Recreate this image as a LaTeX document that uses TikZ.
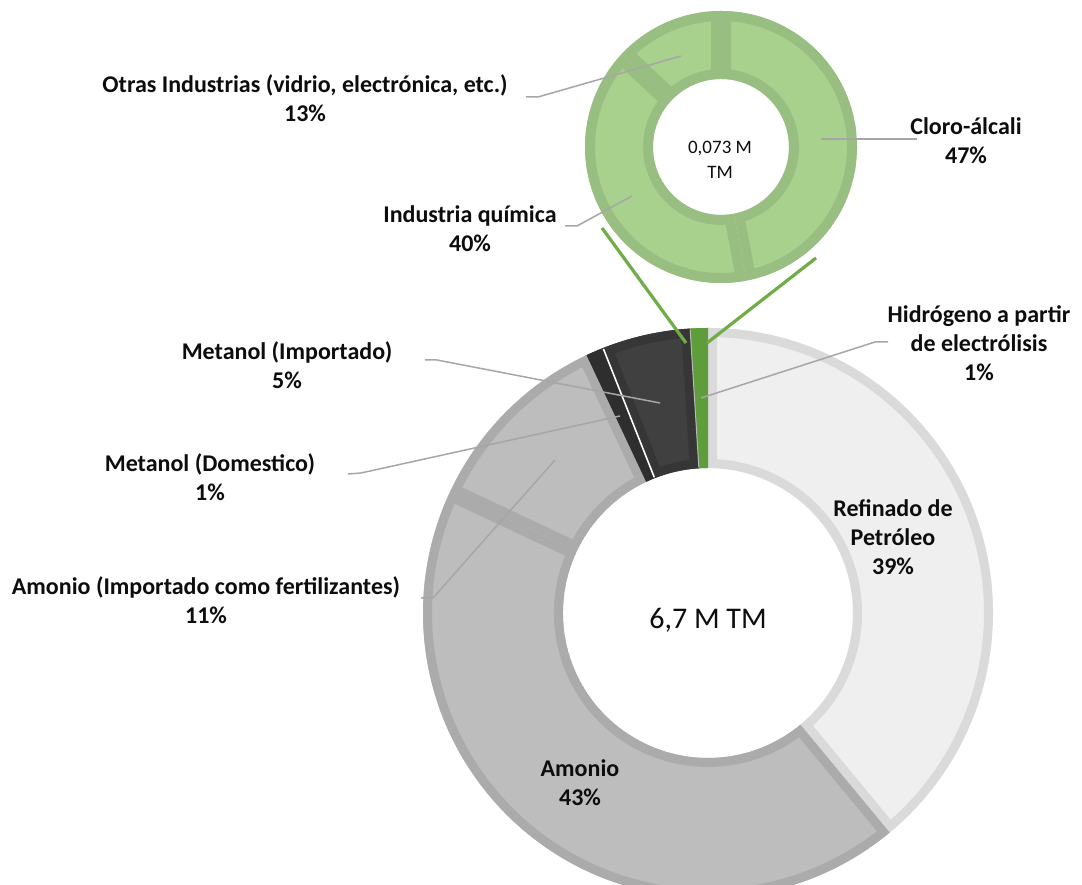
\documentclass[tikz,border=0pt]{standalone}
\usepackage{fontspec}
\setmainfont{Carlito}
\usetikzlibrary{calc}
\definecolor{refF}{HTML}{EFEFEF}
\definecolor{refB}{HTML}{DADADA}
\definecolor{amoF}{HTML}{BDBDBD}
\definecolor{amoB}{HTML}{ABABAB}
\definecolor{metF}{HTML}{404040}
\definecolor{metB}{HTML}{363636}
\definecolor{domF}{HTML}{2E2E2E}
\definecolor{hidF}{HTML}{5E9C3C}
\definecolor{grnF}{HTML}{A9D18E}
\definecolor{grnB}{HTML}{98BE82}
\definecolor{conn}{HTML}{70AD47}
\definecolor{lead}{HTML}{A6A6A6}
\definecolor{txt}{HTML}{0D0D0D}

% #1 centre, #2 outer R, #3 inner r, #4 start angle, #5 end angle, #6 fill, #7 border colour, #8 border width
\newcommand{\ringsector}[8]{%
  \begin{scope}
    \clip (#1) ++(#4:#2pt) arc[start angle=#4,end angle=#5,radius=#2pt]
      -- ($(#1)+(#5:#3pt)$) arc[start angle=#5,end angle=#4,radius=#3pt] -- cycle;
    \fill[#6] (#1) ++(#4:#2pt) arc[start angle=#4,end angle=#5,radius=#2pt]
      -- ($(#1)+(#5:#3pt)$) arc[start angle=#5,end angle=#4,radius=#3pt] -- cycle;
    \draw[#7,line width=2*#8pt] (#1) ++(#4:#2pt) arc[start angle=#4,end angle=#5,radius=#2pt]
      -- ($(#1)+(#5:#3pt)$) arc[start angle=#5,end angle=#4,radius=#3pt] -- cycle;
  \end{scope}}

\tikzset{
  lbl/.style={font=\bfseries\fontsize{24}{29}\selectfont, align=center, inner sep=0pt, text=txt},
  leader/.style={draw=lead, line width=1.5pt},
  zoomline/.style={draw=conn, line width=3.2pt},
}

\begin{document}
\begin{tikzpicture}[x=1pt,y=1pt]
\useasboundingbox (0,0) rectangle (1082,885);
\clip (0,0) rectangle (1082,885);
\fill[white] (0,0) rectangle (1082,885);

% centres
\coordinate (B) at (708,272);
\coordinate (S) at (721,738);

% big donut
\ringsector{B}{285}{145}{90}{-50.4}{refF}{refB}{9}
\ringsector{B}{285}{145}{-50.4}{-205.2}{amoF}{amoB}{9}
\ringsector{B}{285}{145}{-205.2}{-244.8}{amoF}{amoB}{9}
\ringsector{B}{285}{145}{-244.8}{-248.4}{domF}{domF}{9}
\ringsector{B}{285}{145}{-248.4}{-266.4}{metF}{metB}{9}
\ringsector{B}{285}{145}{-266.4}{-270}{hidF}{hidF}{9}
\draw[white, line width=1.6pt] ($(B)+(-248.4:146pt)$) -- ($(B)+(-248.4:284pt)$);
\draw[lead!80, line width=1pt] ($(B)+(-266.4:146pt)$) -- ($(B)+(-266.4:284pt)$);

% small donut
\ringsector{S}{136}{68}{90}{-79.2}{grnF}{grnB}{10}
\ringsector{S}{136}{68}{-79.2}{-223.2}{grnF}{grnB}{10}
\ringsector{S}{136}{68}{-223.2}{-270}{grnF}{grnB}{10}

% zoom connectors
\coordinate (zl1) at (602,657);
\coordinate (zl2) at (686,542);
\coordinate (zr1) at (816,627);
\coordinate (zr2) at (707,542);
\draw[zoomline] (zl1) -- (zl2);
\draw[zoomline] (zr1) -- (zr2);

% centre labels
\node[font=\fontsize{30}{36}\selectfont, text=txt, inner sep=0pt] (tot) at (708,265) {6,7 M TM};
\node[font=\fontsize{19}{25}\selectfont, text=txt, align=center, inner sep=0pt] (sub) at (720,725) {0,073 M\\TM};

% labels
\node[lbl] (otras) at (305,786.5) {Otras Industrias (vidrio, electrónica, etc.)\\13\%};
\node[lbl] (cloro) at (966,744.5) {Cloro-álcali\\47\%};
\node[lbl] (quim) at (470,656.5) {Industria química\\40\%};
\node[lbl] (hidro) at (979,542) {Hidrógeno a partir\\de electrólisis\\1\%};
\node[lbl] (metimp) at (287,520) {Metanol (Importado)\\5\%};
\node[lbl] (metdom) at (210,408) {Metanol (Domestico)\\1\%};
\node[lbl] (amoimp) at (206,285) {Amonio (Importado como fertilizantes)\\11\%};
\node[lbl] (refin) at (893,348) {Refinado de\\Petróleo\\39\%};
\node[lbl] (amonio) at (580,102.5) {Amonio\\43\%};

% leader lines
\coordinate (o1) at (681,829); \coordinate (o2) at (538,788); \coordinate (o3) at (526,788);
\draw[leader] (o1) -- (o2) -- (o3);
\coordinate (c1) at (821,746); \coordinate (c2) at (917,746);
\draw[leader] (c1) -- (c2);
\coordinate (q1) at (632,689); \coordinate (q2) at (577,659); \coordinate (q3) at (565,659);
\draw[leader] (q1) -- (q2) -- (q3);
\coordinate (h1) at (701,487); \coordinate (h2) at (875,543); \coordinate (h3) at (888,543);
\draw[leader] (h1) -- (h2) -- (h3);
\coordinate (mi1) at (660,482); \coordinate (mi2) at (437,525); \coordinate (mi3) at (425,525);
\draw[leader] (mi1) -- (mi2) -- (mi3);
\coordinate (md1) at (620,469); \coordinate (md2) at (361,412); \coordinate (md3) at (348,411);
\draw[leader] (md1) -- (md2) -- (md3);
\coordinate (ai1) at (555,425); \coordinate (ai2) at (433,287); \coordinate (ai3) at (421,287);
\draw[leader] (ai1) -- (ai2) -- (ai3);
\end{tikzpicture}
\end{document}
